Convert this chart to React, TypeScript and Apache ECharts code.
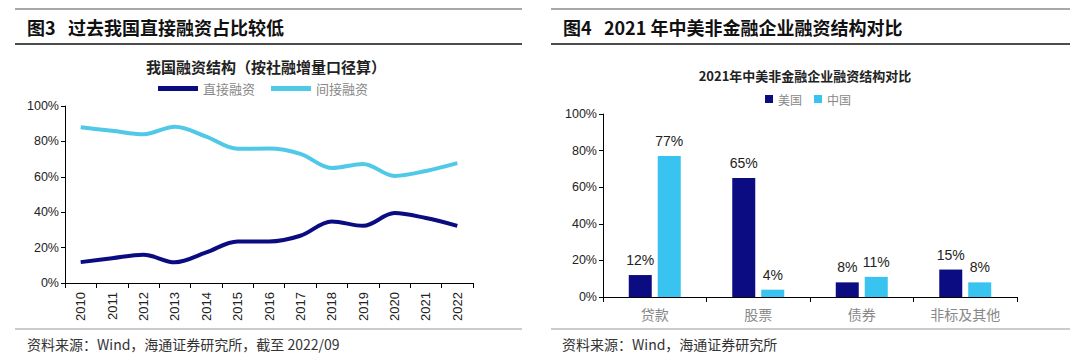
import React, { useEffect, useRef } from "react";
import * as echarts from "echarts";

const years = ["2010","2011","2012","2013","2014","2015","2016","2017","2018","2019","2020","2021","2022"];
const directFin = [11.8, 14, 16, 11.7, 17.3, 23.5, 23.5, 26.7, 34.8, 32.3, 39.5, 36.7, 32.3];
const indirectFin = [88, 86, 84, 88.3, 82.7, 75.8, 76, 73, 65, 67.3, 60.5, 63.3, 67.7];
const pctTicks = ["0%", "20%", "40%", "60%", "80%", "100%"];

const barCats = ["贷款", "股票", "债券", "非标及其他"];
const usVals = [12, 65, 8, 15];
const cnVals = [77, 4, 11, 8];

const NAVY = "#0c0c82";
const LINE_BLUE = "#50c8e8";
const BAR_BLUE = "#38c3f0";
const CJK = "'Noto Sans CJK SC', 'Liberation Sans', sans-serif";
const LAT = "'Liberation Sans', Arial, 'Noto Sans CJK SC', sans-serif";

export default function App() {
  const ref = useRef<HTMLDivElement>(null);
  useEffect(() => {
    if (!ref.current) return;
    const chart = echarts.init(ref.current, null, { renderer: "svg" });
    const yAxisCommon = (gridIndex: number) => ({
      type: "value" as const,
      gridIndex,
      min: 0,
      max: 100,
      interval: 20,
      axisLine: { show: true, lineStyle: { color: "#000", width: 1 } },
      axisTick: { show: true, length: 4, lineStyle: { color: "#000" } },
      splitLine: { show: false },
      axisLabel: {
        formatter: (v: number) => pctTicks[Math.round(v / 20)],
        color: "#222",
        fontSize: 12.5,
        fontFamily: LAT,
        margin: 6,
      },
    });
    chart.setOption({
      animation: false,
      backgroundColor: "#fff",
      graphic: [
        { type: "line", shape: { x1: 15, y1: 9, x2: 522, y2: 9 }, style: { stroke: "#a8a8a8", lineWidth: 2 } },
        { type: "line", shape: { x1: 15, y1: 44, x2: 522, y2: 44 }, style: { stroke: "#111", lineWidth: 1.5 } },
        { type: "line", shape: { x1: 15, y1: 329, x2: 522, y2: 329 }, style: { stroke: "#999", lineWidth: 1 } },
        { type: "line", shape: { x1: 551, y1: 9, x2: 1070, y2: 9 }, style: { stroke: "#a8a8a8", lineWidth: 2 } },
        { type: "line", shape: { x1: 551, y1: 44, x2: 1070, y2: 44 }, style: { stroke: "#111", lineWidth: 1.5 } },
        { type: "line", shape: { x1: 551, y1: 329, x2: 1070, y2: 329 }, style: { stroke: "#999", lineWidth: 1 } },
        {
          type: "text", left: 27, top: 18,
          style: { text: "图3   过去我国直接融资占比较低", font: `bold 18px ${CJK}`, fill: "#111" },
        },
        {
          type: "text", left: 563, top: 18,
          style: { text: "图4   2021 年中美非金融企业融资结构对比", font: `bold 18px ${CJK}`, fill: "#111" },
        },
        {
          type: "text", left: 27, top: 337,
          style: { text: "资料来源：Wind，海通证券研究所，截至 2022/09", font: `14px ${CJK}`, fill: "#333" },
        },
        {
          type: "text", left: 562, top: 337,
          style: { text: "资料来源：Wind，海通证券研究所", font: `14px ${CJK}`, fill: "#333" },
        },
      ],
      title: [
        {
          text: "我国融资结构（按社融增量口径算）",
          left: 261, top: 54, textAlign: "center",
          textStyle: { fontSize: 15, fontWeight: "bold", color: "#222", fontFamily: CJK },
        },
        {
          text: "2021年中美非金融企业融资结构对比",
          left: 800, top: 64, textAlign: "center",
          textStyle: { fontSize: 13, fontWeight: "bold", color: "#222", fontFamily: CJK },
        },
      ],
      legend: [
        {
          data: ["直接融资", "间接融资"],
          left: 153, top: 77,
          icon: "rect", itemWidth: 40, itemHeight: 5, itemGap: 16,
          textStyle: { color: "#888", fontSize: 13, fontFamily: CJK },
        },
        {
          data: ["美国", "中国"],
          left: 760, top: 88,
          icon: "rect", itemWidth: 8, itemHeight: 8, itemGap: 12,
          textStyle: { color: "#888", fontSize: 12, fontFamily: CJK },
        },
      ],
      grid: [
        { left: 65, right: 607, top: 106, bottom: 81, containLabel: false },
        { left: 603, right: 63, top: 114, bottom: 67, containLabel: false },
      ],
      xAxis: [
        {
          type: "category", gridIndex: 0, data: years, boundaryGap: true,
          axisLine: { lineStyle: { color: "#000" } },
          axisTick: { show: true, alignWithLabel: false, length: 5, lineStyle: { color: "#000" } },
          axisLabel: { rotate: 90, color: "#222", fontSize: 13, fontFamily: LAT, margin: 9, interval: 0 },
        },
        {
          type: "category", gridIndex: 1, data: barCats, boundaryGap: true,
          axisLine: { lineStyle: { color: "#000" } },
          axisTick: { show: true, length: 5, lineStyle: { color: "#000" } },
          axisLabel: { color: "#888", fontSize: 14, fontFamily: CJK, margin: 10 },
        },
      ],
      yAxis: [yAxisCommon(0), yAxisCommon(1)],
      series: [
        {
          name: "直接融资", type: "line", xAxisIndex: 0, yAxisIndex: 0, data: directFin,
          smooth: 0.35, symbol: "none", lineStyle: { color: NAVY, width: 4 }, itemStyle: { color: NAVY },
        },
        {
          name: "间接融资", type: "line", xAxisIndex: 0, yAxisIndex: 0, data: indirectFin,
          smooth: 0.35, symbol: "none", lineStyle: { color: LINE_BLUE, width: 4 }, itemStyle: { color: LINE_BLUE },
        },
        {
          name: "美国", type: "bar", xAxisIndex: 1, yAxisIndex: 1, data: usVals,
          barWidth: 23, barGap: "26%", itemStyle: { color: NAVY },
          label: { show: true, position: "top", formatter: "{c}%", color: "#222", fontSize: 14, fontFamily: LAT, distance: 8 },
        },
        {
          name: "中国", type: "bar", xAxisIndex: 1, yAxisIndex: 1, data: cnVals,
          barWidth: 23, barGap: "26%", itemStyle: { color: BAR_BLUE },
          label: { show: true, position: "top", formatter: "{c}%", color: "#222", fontSize: 14, fontFamily: LAT, distance: 8 },
        },
      ],
    });
    return () => chart.dispose();
  }, []);
  return (
    <div
      ref={ref}
      style={{ position: "fixed", left: 0, top: 0, width: 1080, height: 364, background: "#fff" }}
    />
  );
}
